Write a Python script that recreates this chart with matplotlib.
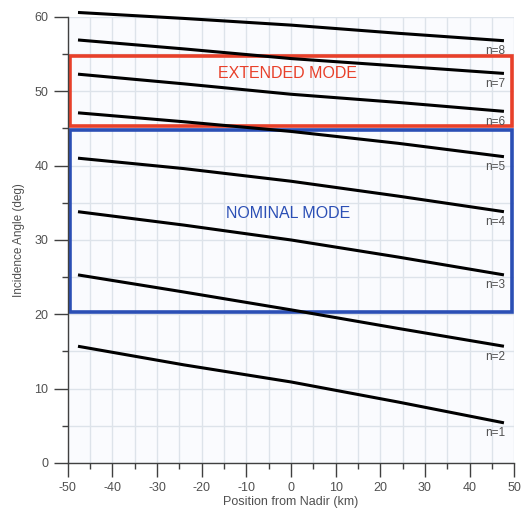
import numpy as np
import matplotlib.pyplot as plt
from matplotlib.patches import Rectangle
from matplotlib.ticker import MultipleLocator

# position from nadir (km) and incidence angle (deg) for each beam n
pos = [-47.7, -24, 0, 24, 47.7]
angles = {
    1: [15.7, 13.2, 10.9, 8.2, 5.4],
    2: [25.3, 23.0, 20.6, 18.1, 15.7],
    3: [33.8, 32.0, 30.0, 27.7, 25.3],
    4: [41.0, 39.6, 37.9, 35.9, 33.8],
    5: [47.1, 45.9, 44.6, 43.0, 41.2],
    6: [52.3, 51.0, 49.6, 48.5, 47.3],
    7: [56.9, 55.7, 54.4, 53.4, 52.4],
    8: [60.6, 59.8, 58.9, 57.8, 56.8],
}
extended = (-49.4, 45.35, 49.4, 54.7)   # x0, y0, x1, y1
nominal = (-49.5, 20.3, 49.5, 44.8)

plt.rcParams['font.family'] = ['Liberation Sans', 'DejaVu Sans']
plt.rcParams['axes.unicode_minus'] = False
grey = '#505050'

fig = plt.figure(figsize=(5.21, 5.13), dpi=100)
ax = fig.add_axes([0.130, 0.0975, 0.857, 0.8695])
ax.set_facecolor('#fafbfe')

for n, vals in angles.items():
    ax.plot(pos, vals, color='black', lw=2.2, solid_capstyle='butt',
            zorder=3, clip_on=False)
    ax.text(pos[-1] + 0.2, vals[-1] - 0.6, 'n=%d' % n, ha='right', va='top',
            fontsize=8.5, color=grey, zorder=4)

for (x0, y0, x1, y1), col in [(extended, '#e8402a'), (nominal, '#2b4fb5')]:
    ax.add_patch(Rectangle((x0, y0), x1 - x0, y1 - y0, fill=False,
                           edgecolor=col, lw=2.6, zorder=2))
ax.text(-0.8, 52.4, 'EXTENDED MODE', color='#e8402a', fontsize=11.5,
        ha='center', va='center', zorder=4)
ax.text(-0.7, 33.6, 'NOMINAL MODE', color='#2b4fb5', fontsize=11.5,
        ha='center', va='center', zorder=4)

ax.set_xlim(-50, 50)
ax.set_ylim(0, 60)
ax.xaxis.set_major_locator(MultipleLocator(10))
ax.xaxis.set_minor_locator(MultipleLocator(5))
ax.yaxis.set_major_locator(MultipleLocator(10))
ax.yaxis.set_minor_locator(MultipleLocator(5))
ax.grid(True, which='both', color='#dde3ea', lw=1.0, zorder=0)
ax.set_axisbelow(True)

for side in ['top', 'right']:
    ax.spines[side].set_visible(False)
for side in ['left', 'bottom']:
    ax.spines[side].set_color('#404040')
    ax.spines[side].set_linewidth(1.0)

ax.tick_params(which='major', length=10, width=1.0, color='#404040',
               labelsize=9, labelcolor=grey, pad=4)
ax.tick_params(which='minor', length=4.5, width=1.0, color='#404040')

ax.set_xlabel('Position from Nadir (km)', fontsize=9, color=grey, labelpad=1)
ax.set_ylabel('Incidence Angle (deg)', fontsize=8.5, color=grey, labelpad=7)

fig.savefig('out.png', dpi=100)
